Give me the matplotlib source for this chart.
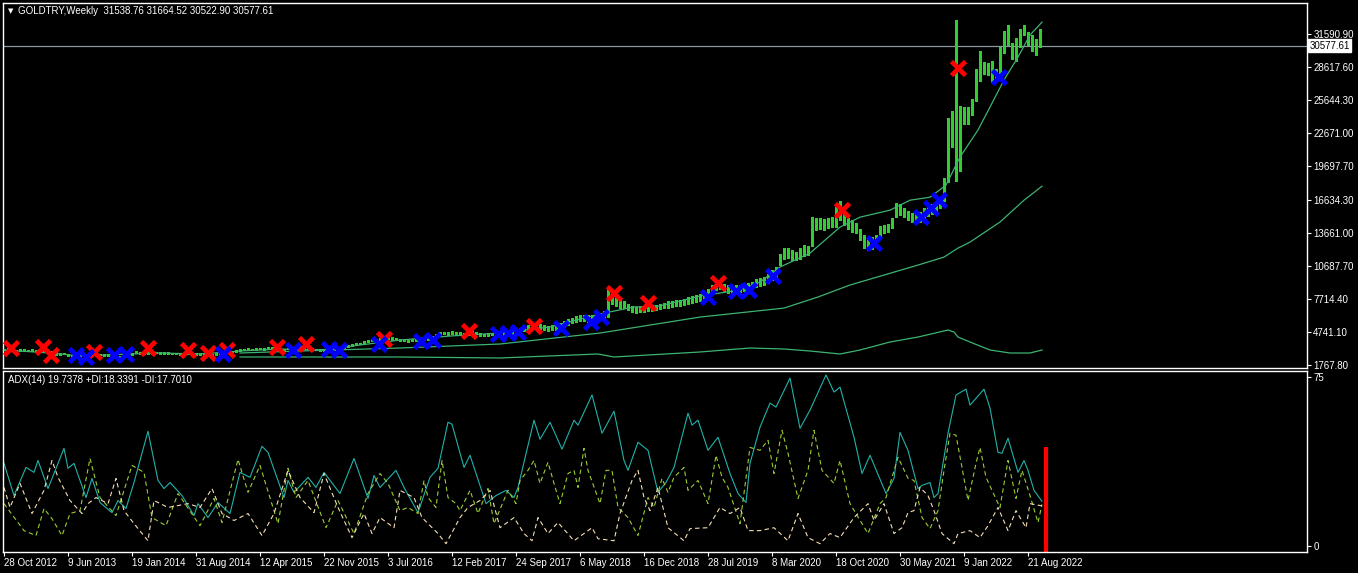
import numpy as np
import matplotlib
matplotlib.use("Agg")
import matplotlib.pyplot as plt

plt.rcParams['font.family'] = ['Liberation Sans', 'DejaVu Sans']

# weekly GOLDTRY, one bar every 2 weeks: (low, high), week index = 2*i
price_bars = [
    (3080,3230),(3120,3260),(3070,3210),(3010,3140),(3050,3180),(3040,3170),(3000,3130),(3050,3190),(3020,3150),(2930,3070),
    (2950,3080),(2990,3110),(2880,3040),(2700,2900),(2670,2830),(2730,2870),(2600,2780),(2480,2660),(2430,2600),(2500,2660),
    (2550,2700),(2630,2780),(2570,2720),(2610,2750),(2650,2800),(2620,2760),(2580,2720),(2510,2660),(2450,2600),(2470,2610),
    (2490,2640),(2550,2700),(2700,2870),(2820,2990),(2800,2960),(2790,2930),(2760,2900),(2800,2940),(2830,2970),(2790,2930),
    (2770,2910),(2760,2900),(2720,2860),(2730,2870),(2690,2830),(2750,2890),(2780,2920),(2730,2870),(2690,2830),(2710,2850),
    (2670,2810),(2630,2770),(2650,2790),(2710,2850),(2730,2870),(2780,2920),(2830,2980),(2900,3060),(2970,3130),(3040,3200),
    (3080,3230),(3130,3270),(3110,3250),(3160,3300),(3180,3330),(3130,3270),(3210,3350),(3230,3380),(3190,3330),(3150,3290),
    (3110,3250),(3180,3320),(3230,3380),(3280,3430),(3340,3500),(3300,3460),(3220,3380),(3130,3280),(3080,3230),(3030,3180),
    (3010,3160),(3050,3200),(3080,3230),(3110,3260),(3180,3340),(3270,3450),(3420,3600),(3520,3700),(3570,3740),(3620,3790),
    (3720,3900),(3820,4000),(3910,4100),(3960,4150),(4010,4200),(4060,4260),(4100,4300),(4060,4250),(4010,4200),(3960,4150),
    (3910,4100),(3860,4050),(3910,4100),(3960,4150),(4010,4200),(3990,4180),(4060,4260),(4200,4420),(4350,4570),(4500,4720),
    (4550,4770),(4500,4710),(4600,4820),(4550,4760),(4500,4710),(4450,4660),(4500,4710),(4600,4820),(4550,4760),(4400,4620),
    (4350,4560),(4400,4610),(4450,4660),(4500,4710),
    (4400,4800),(4450,4850),(4500,4900),(4550,4950),(4600,5000),(4700,5100),(4800,5250),(4900,5350),(5000,5500),(5050,5550),
    (5000,5450),(4900,5350),(4850,5300),(4900,5350),(4950,5400),(5050,5550),(5200,5700),(5400,5900),(5550,6050),(5650,6200),
    (5750,6280),(5700,6300),(5650,6250),(5700,6300),(5800,6400),(5900,6500),(6050,6600),(6100,8700),(7300,8260),(7100,8000),
    (6950,7700),(6900,7500),(6700,7300),(6550,7100),(6500,7000),(6550,7000),(6550,7050),(6600,7150),(6650,7150),(6700,7200),
    (6800,7300),(6900,7400),(6950,7500),(7000,7550),(7050,7600),(7100,7650),(7150,7700),(7300,7900),(7400,8000),(7450,8100),
    (7550,8200),(7700,8300),(7900,8600),(8200,9000),(8500,9400),(8600,9300),(8400,9100),(8300,9000),(8260,8900),(8300,8950),
    (8350,9000),(8400,9100),(8500,9200),(8600,9250),(8800,9500),(8900,9600),(9000,9700),(9200,10000),(9400,10300),(9700,10600),
    (10800,11800),(11300,12300),(11400,12300),(11200,12100),(11200,12000),(11300,12300),
    (11600,12600),(11700,12500),(12500,15100),(13900,15000),(14000,15000),(13900,14900),(14100,15000),(14200,15100),(14200,16000),(14800,16600),
    (14400,15800),(14000,15000),(13800,14800),(13700,14600),(13000,14000),(12300,13500),(12100,13200),(12200,13300),(12400,13500),(13400,14300),
    (13700,14400),(13800,14500),(14100,15000),(15100,16400),(15300,16300),(15100,15900),(14800,15700),(14700,15500),(14800,15600),(14700,15600),
    (14900,15900),(15200,16100),(15400,16300),(15700,16400),(15900,16700),(16600,18600),(18300,24000),(21400,24700),(18400,32850),(19300,25100),
    (23500,25000),(23500,25000),(24300,25800),(25600,28500),(27400,30100),(28000,29100),(27900,29000),(27300,29200),(27400,28500),(27900,30400),
    (29900,31900),(30600,32400),(29400,30800),(29200,31300),(30400,32100),(31500,32400),(30600,31800),(30100,31500),(29700,31200),(30400,32100),
]
last_close = 30577.61

# moving averages: (week, value)
ma_fast = [(0,3120),(23,2850),(38,2580),(63,2760),(78,2850),(98,2760),(118,3030),(138,3210),(158,3120),(178,3570),
           (198,4020),(223,4380),(248,4650),(273,5200),(298,6370),(315,7000),(328,7090),(348,7990),(368,8530),(378,9250),
           (388,10600),(403,11860),(418,14200),(428,15100),(443,15730),(453,16630),(463,16900),(471,17990),(478,20520),
           (487,22960),(493,25030),(500,27470),(507,29540),(513,31520),(519,32690)]
ma_mid = [(118,2850),(148,3030),(198,3300),(248,3660),(298,4650),(348,6090),(390,6900),(407,7900),(423,8980),(440,9880),
          (457,10780),(470,11500),(477,12310),(483,12850),(498,14660),(510,16630),(519,17890)]
ma_low = [(118,2490),(198,2490),(248,2400),(297,2760),(305,2490),(348,2940),(373,3300),(390,3210),(403,3030),(418,2760),
          (428,3120),(443,3840),(457,4290),(472,4920),(475,4740),(477,4290),(483,3840),(493,3120),(503,2850),(513,2850),(519,3120)]

sell_marks = [(3.5,3300),(19.5,3390),(23.5,2670),(45,2940),(72,3300),(92,3120),(102,2850),(111.5,3120),(136.5,3390),
              (151,3660),(190,4110),(232.5,4830),(265,5280),(305,8260),(322,7360),(357,9160),(419,15745),(477,28550)]
buy_marks = [(36,2670),(41,2490),(55,2670),(61,2760),(109.5,2760),(144.5,3120),(162.5,3210),(167.5,3120),(187.5,3660),
             (208.5,3930),(214.5,4020),(247,4560),(252,4650),(257,4740),(278.5,5100),(293.5,5640),(298.5,6100),(352,7900),
             (366,8440),(372.5,8530),(384.5,9790),(435,12770),(458.5,15120),(463.5,15930),(467.5,16650),(497.5,27740)]

price_ticks = [31590.90, 28617.60, 25644.30, 22671.00, 19697.70, 16634.30, 13661.00, 10687.70, 7714.40, 4741.10, 1767.80]

# ADX(14): (week, value)
adx_pts = [(0,36.6),(5,22.3),(11,34.8),(15,32.6),(17,37.9),(22,25.4),(30,43.3),(32,34.4),(35,36.6),(41,21.4),
           (44,29.9),(48,19.2),(54,14.7),(57,20.1),(61,16.5),(65,28.1),(72,50.9),(77,29.0),(80,25.4),(83,28.1),
           (89,22.3),(95,13.4),(97,18.7),(102,12.5),(107,19.2),(113,14.3),(118,32.6),(123,30.4),(129,44.2),(132,41.5),
           (140,21.4),(142,29.0),(145,23.7),(152,30.4),(156,25.9),(160,32.6),(168,23.2),(175,38.8),(182,21.0),(185,31.2),
           (188,25.9),(196,33.5),(200,25.9),(207,14.7),(213,30.4),(217,34.4),(222,54.9),(224,54.0),(230,34.8),(233,40.2),
           (241,18.7),(246,22.3),(251,24.6),(255,21.4),(257,25.9),(265,55.8),(268,47.3),(273,54.9),(279,42.9),(285,55.8),
           (287,53.6),(294,67.0),(299,50.0),(305,59.8),(310,37.9),(312,33.5),(317,46.0),(322,42.4),(327,23.7),(331,28.1),
           (335,34.8),(342,58.9),(344,53.6),(347,55.8),(352,42.4),(357,48.2),(363,32.1),(367,23.2),(371,19.2),(373,36.6),
           (378,52.7),(383,63.4),(386,61.6),(393,74.5),(398,52.2),(403,60.3),(411,75.9),(415,68.3),(418,70.5),(425,48.2),
           (429,32.1),(433,40.2),(441,23.2),(445,29.9),(448,50.4),(452,42.4),(457,25.4),(459,26.8),(463,28.1),(465,21.4),
           (467,23.2),(470,39.3),(472,50.0),(476,67.0),(481,69.6),(483,62.5),(490,69.6),(493,61.2),(497,41.5),(499,41.1),
           (502,47.8),(507,32.6),(510,37.9),(512,33.5),(515,24.6),(519,19.7378)]
pdi_pts = [(0,18.7),(10,6.7),(16,4.5),(20,16.5),(24,12.0),(29,4.5),(33,14.3),(38,15.6),(43,38.8),(48,21.4),
           (56,13.4),(64,35.7),(70,32.6),(74,12.5),(81,8.9),(87,23.2),(98,8.9),(105,21.0),(109,10.3),(117,38.4),
           (122,23.7),(128,35.7),(137,9.8),(142,34.4),(146,21.4),(152,29.0),(161,8.0),(167,20.1),(175,5.4),(182,23.2),
           (188,32.1),(192,27.7),(198,15.6),(202,17.0),(207,14.3),(210,29.0),(212,21.4),(216,17.0),(219,37.9),(222,21.4),
           (226,18.7),(228,15.6),(233,24.6),(237,14.3),(242,25.4),(245,9.8),(252,24.6),(256,18.7),(258,29.0),(262,33.5),
           (265,37.9),(268,27.7),(272,37.1),(275,27.7),(278,18.7),(282,32.1),(285,33.5),(287,25.9),(290,43.3),(292,33.5),
           (298,18.7),(301,33.5),(304,33.5),(307,17.0),(312,12.5),(317,4.5),(322,21.4),(325,17.0),(329,29.9),(332,23.7),
           (335,30.4),(340,34.8),(342,24.6),(347,29.0),(352,18.7),(356,40.2),(359,30.4),(362,25.9),(368,9.8),(373,43.7),
           (378,42.4),(382,46.9),(385,32.1),(389,51.3),(392,41.1),(397,21.0),(402,33.5),(405,51.3),(409,33.5),(415,27.7),
           (418,37.9),(423,18.7),(432,5.4),(438,18.7),(441,21.4),(447,39.3),(452,30.0),(455,29.0),(459,12.5),(463,7.6),
           (467,15.6),(470,33.5),(473,50.0),(476,49.1),(479,34.8),(482,20.1),(486,36.6),(488,43.7),(491,30.4),(494,24.6),
           (498,17.0),(502,37.9),(506,21.0),(509,33.5),(513,22.3),(517,10.3),(519,18.3391)]
mdi_pts = [(0,25.9),(3,17.0),(8,27.7),(14,14.3),(20,24.6),(24,37.9),(27,30.4),(33,20.1),(39,14.3),(42,18.7),
           (46,21.4),(52,18.7),(56,29.9),(60,15.6),(65,9.8),(72,2.2),(75,20.1),(82,17.0),(92,18.7),(98,17.0),
           (104,25.4),(109,14.3),(115,11.2),(122,14.3),(129,4.5),(135,14.3),(142,33.5),(148,21.4),(155,14.7),(160,32.1),
           (167,17.0),(174,3.6),(180,14.3),(184,5.4),(188,12.5),(195,8.0),(198,24.6),(205,21.4),(209,12.5),(217,5.4),
           (221,0.9),(228,12.5),(232,17.0),(238,20.1),(243,24.6),(248,8.0),(255,12.5),(260,5.4),(264,2.2),(267,12.5),
           (272,5.4),(277,10.3),(285,2.2),(294,8.0),(297,3.1),(305,2.2),(308,14.3),(314,29.0),(317,33.5),(320,21.4),
           (323,15.6),(327,25.9),(332,8.0),(340,2.2),(343,7.6),(352,8.0),(358,17.0),(363,14.3),(368,17.0),(372,6.7),
           (378,6.7),(385,8.0),(392,2.2),(397,14.3),(402,3.6),(408,0.9),(413,5.4),(418,3.6),(425,12.5),(432,18.7),
           (435,11.2),(440,18.7),(445,5.4),(449,8.0),(452,14.7),(455,15.6),(458,25.9),(462,22.3),(465,15.6),(469,5.4),
           (475,0.9),(477,5.4),(483,6.7),(488,3.6),(492,8.9),(497,17.0),(502,6.7),(506,15.6),(511,8.0),(513,18.7),(519,17.7010)]
hist_week = [521]
hist_val = [43.9]

date_labels = ['28 Oct 2012', '9 Jun 2013', '19 Jan 2014', '31 Aug 2014', '12 Apr 2015', '22 Nov 2015',
               '3 Jul 2016', '12 Feb 2017', '24 Sep 2017', '6 May 2018', '16 Dec 2018', '28 Jul 2019',
               '8 Mar 2020', '18 Oct 2020', '30 May 2021', '9 Jan 2022', '21 Aug 2022']
date_weeks = [32 * k for k in range(len(date_labels))]

W, H = 1358, 573
fig = plt.figure(figsize=(W / 100, H / 100), dpi=100, facecolor='black')
ax = fig.add_axes([3 / W, 1 - 368 / H, 1304 / W, 365 / H], facecolor='black')
ax2 = fig.add_axes([3 / W, 1 - 552 / H, 1304 / W, 181 / H], facecolor='black')

for a in (ax, ax2):
    a.set_xlim(-0.5, 651.5)
    for s in a.spines.values():
        s.set_color('white')
        s.set_linewidth(1)
    a.yaxis.tick_right()
    a.tick_params(axis='y', colors='white', length=3, width=0.8, pad=1.5, labelsize=7)

# price panel
bars = np.array(price_bars, dtype=float)
bw = np.arange(len(bars)) * 2
ax.vlines(bw, bars[:, 0], bars[:, 1], color='#32CD32', lw=0.75, antialiased=False, zorder=2)
for pts in (ma_fast, ma_mid, ma_low):
    p = np.array(pts, dtype=float)
    ax.plot(p[:, 0], p[:, 1], color='#3CB371', lw=0.9, zorder=3)
s = np.array(sell_marks)
ax.plot(s[:, 0], s[:, 1], 'x', color='#FF0000', ms=10, mew=3.4, zorder=4)
b = np.array(buy_marks)
ax.plot(b[:, 0], b[:, 1], 'x', color='#0000FF', ms=10, mew=3.4, zorder=4)
ax.axhline(last_close, color='#8C96A0', lw=0.9, zorder=1)
ax.set_ylim(1497, 34413)
ax.set_yticks(price_ticks)
ax.set_yticklabels(['%.2f' % v for v in price_ticks])
ax.set_xticks([])
ax.text(1.0 + 2.5 / 1304, last_close, '%.2f' % last_close, transform=ax.get_yaxis_transform(),
        va='center', ha='left', fontsize=7, color='black',
        bbox=dict(boxstyle='square,pad=0.12', fc='white', ec='white'))
ax.text(0.0035, 0.978, '\u25bc', transform=ax.transAxes, fontsize=5, color='white', va='center', ha='left',
        family='DejaVu Sans')
ax.text(0.0115, 0.978, 'GOLDTRY,Weekly  31538.76 31664.52 30522.90 30577.61', transform=ax.transAxes,
        fontsize=7, color='white', va='center', ha='left')

# ADX panel
for pts, col, ls in ((adx_pts, '#20B2AA', '-'), (pdi_pts, '#9ACD32', (0, (4, 3))), (mdi_pts, '#F5DEB3', (0, (4, 3)))):
    p = np.array(pts, dtype=float)
    ax2.plot(p[:, 0], p[:, 1], color=col, lw=0.8, ls=ls)
ax2.vlines(hist_week, -5, hist_val, color='#FF0000', lw=3)
ax2.set_ylim(-2.8, 77.67)
ax2.set_yticks([75, 0])
ax2.set_yticklabels(['75', '0'])
ax2.set_xticks(date_weeks)
ax2.set_xticklabels(date_labels)
ax2.tick_params(axis='x', colors='white', length=3, width=0.8, pad=1.5, labelsize=7)
for lab in ax2.get_xticklabels():
    lab.set_ha('left')
ax2.text(0.004, 0.95, 'ADX(14) 19.7378 +DI:18.3391 -DI:17.7010', transform=ax2.transAxes,
         fontsize=7, color='white', va='center', ha='left')

fig.savefig('out.png', dpi=100, facecolor='black')
